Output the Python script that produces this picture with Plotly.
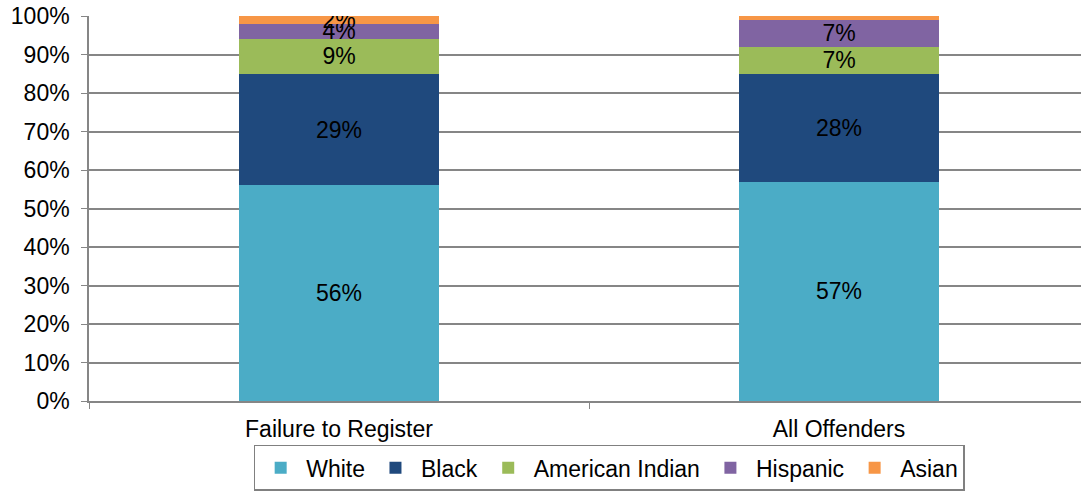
import plotly.graph_objects as go

categories = ["Failure to Register", "All Offenders"]
series_names = ["White", "Black", "American Indian", "Hispanic", "Asian"]
white = [56, 57]
black = [29, 28]
american_indian = [9, 7]
hispanic = [4, 7]
asian = [2, 1]
asian_labels = ["2%", ""]

colors = ["#4BACC6", "#1F497D", "#9BBB59", "#8064A2", "#F79646"]
series_values = [white, black, american_indian, hispanic, asian]

FONT = "Liberation Sans, Arial, sans-serif"
FS = 23

fig = go.Figure()
for name, vals, col in zip(series_names, series_values, colors):
    if name == "Asian":
        labels = asian_labels
    else:
        labels = [f"{v}%" for v in vals]
    fig.add_trace(go.Bar(
        x=categories, y=vals, name=name,
        marker=dict(color=col, line=dict(width=0)),
        text=labels, textposition="inside", insidetextanchor="middle",
        constraintext="none",
        textfont=dict(color="#000000", size=FS, family=FONT),
        hoverinfo="skip",
    ))

fig.update_layout(
    barmode="stack",
    bargap=0.6,
    width=1081, height=495,
    margin=dict(l=89, r=0, t=16, b=94),
    paper_bgcolor="white", plot_bgcolor="white",
    font=dict(family=FONT, size=FS, color="#000000"),
    showlegend=True,
    legend=dict(
        orientation="h", x=0.166, xanchor="left", y=-0.114, yanchor="top",
        bordercolor="#808080", borderwidth=1.5,
        font=dict(size=FS, family=FONT), itemwidth=41,
        traceorder="normal", tracegroupgap=0,
    ),
    xaxis=dict(
        type="category", range=[-0.5, 1.484],
        showline=True, linecolor="#868686", linewidth=1.5,
        ticks="outside", tickson="boundaries", ticklen=6, tickcolor="#868686",
        showgrid=False, tickfont=dict(size=FS, family=FONT),
        ticklabelstandoff=7,
    ),
    yaxis=dict(
        range=[0, 100], dtick=10, ticksuffix="%",
        showline=True, linecolor="#868686", linewidth=1.5,
        ticks="outside", ticklen=6, tickcolor="#868686",
        showgrid=True, gridcolor="#868686", gridwidth=1.5,
        tickfont=dict(size=FS, family=FONT),
        ticklabelstandoff=7,
        zeroline=False,
    ),
)

fig.write_html("out.html")
